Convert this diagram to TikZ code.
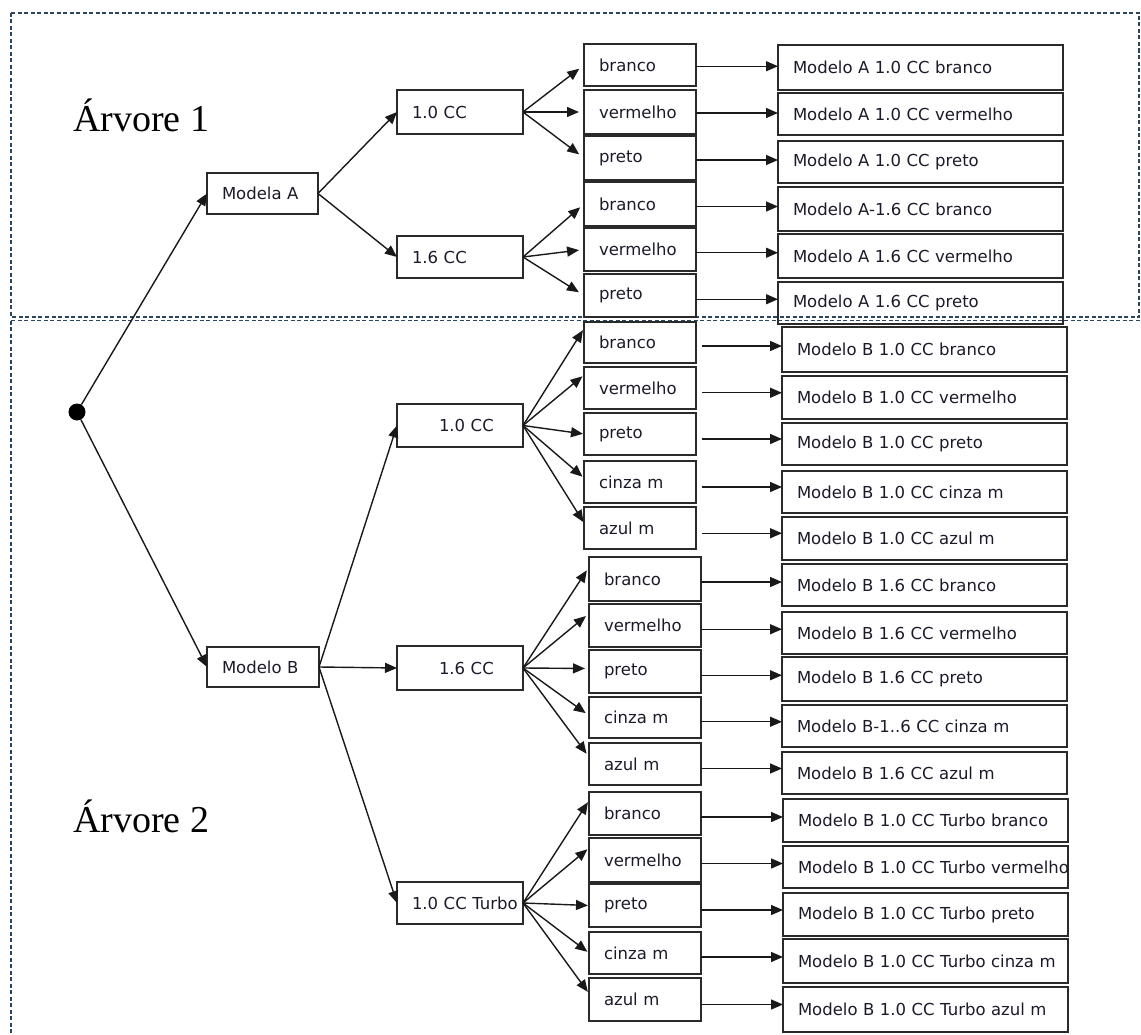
\documentclass[tikz,border=0pt]{standalone}
\usepackage{fontspec}
\setmainfont{Liberation Serif}
\newfontfamily\cellfont{DejaVu Sans}
\usetikzlibrary{arrows.meta,calc}

\definecolor{frameblue}{HTML}{2A4560}
\definecolor{ink}{HTML}{1A1A2A}
\definecolor{edge}{HTML}{2A2A2A}

\tikzset{
  cell/.style={draw=edge, line width=1.6pt, inner xsep=15pt, inner ysep=0pt,
    outer sep=0pt, align=left, text=ink,
    font=\cellfont\fontsize{16.5}{19}\selectfont},
  arr/.style={draw=black!90, line width=1.4pt,
    -{Triangle[length=12pt,width=10pt]}},
  frame/.style={draw=frameblue, line width=1.2pt, dash pattern=on 4pt off 2.5pt},
  title/.style={anchor=base west, inner sep=0pt, text=black,
    font=\fontsize{38}{40}\selectfont},
  rootdot/.style={circle, fill=black, minimum size=17pt, inner sep=0pt}
}

% box given by its corners: name, x1, y1, x2, y2, text
\newcommand\cellbox[7][]{%
  \node[cell,#1,text width={(#5-#3-30)*1pt},minimum height={(#6-#4)*1pt},
    anchor=north west] (#2) at (#3,#4) {\mbox{#7}};}
% horizontal link between a colour box and its result box
\newcommand\hlink[3][]{%
  \draw[arr,#1] let \p1=(#2.east), \p2=(#3.west) in
    (\x1,{(\y1+\y2)/2}) -- (\x2,{(\y1+\y2)/2});}
% fan-out link from a capacity box to a colour box
\newcommand\flink[4][0]{%
  \draw[arr,shorten >=#4pt] (#2.east) -- ([yshift=#1pt]#3.west);}

\begin{document}
\begin{tikzpicture}[x=1pt,y=-1pt]
\useasboundingbox (0,0) rectangle (1141,1035);

% dashed frames of the two trees
\draw[frame] (11,13) rectangle (1139,317);
\draw[frame] (11,320.5) -- (1141,320.5);
\draw[frame] (11,320.5) -- (11,1035);

% titles
\node[title] (t1) at (73,132) {Árvore 1};
\node[title] (t2) at (73,832) {Árvore 2};

% root
\node[rootdot] (root) at (77,412) {};

% models
\cellbox{mA}{207}{173}{318}{214}{Modela A}
\cellbox{mB}{207}{647}{319}{687}{Modelo B}

% engines
\cellbox{pA10}{397}{90}{523}{134}{1.0 CC}
\cellbox{pA16}{397}{236}{523}{278}{1.6 CC}
\cellbox{pB10}{397}{404}{523}{447}{\hspace*{27pt}1.0 CC}
\cellbox{pB16}{397}{646}{523}{690}{\hspace*{27pt}1.6 CC}
\cellbox{pBT}{397}{882}{523}{924}{1.0 CC Turbo}

% colours, model A
\cellbox{cA1}{584}{44}{696}{86}{branco}
\cellbox{cA2}{584}{90}{696}{134}{vermelho}
\cellbox{cA3}{584}{136}{696}{180}{preto}
\cellbox{cA4}{584}{182}{696}{226}{branco}
\cellbox{cA5}{584}{228}{696}{271}{vermelho}
\cellbox{cA6}{584}{274}{696}{317}{preto}

% colours, model B 1.0
\cellbox{cB1}{584}{322}{696}{363}{branco}
\cellbox{cB2}{584}{367}{696}{409}{vermelho}
\cellbox{cB3}{584}{413}{696}{455}{preto}
\cellbox{cB4}{584}{461}{696}{503}{cinza m}
\cellbox{cB5}{584}{507}{696}{549}{azul m}

% colours, model B 1.6
\cellbox{cC1}{589}{557}{701}{601}{branco}
\cellbox{cC2}{589}{604}{701}{647}{vermelho}
\cellbox{cC3}{589}{650}{701}{693}{preto}
\cellbox{cC4}{589}{697}{701}{738}{cinza m}
\cellbox{cC5}{589}{743}{701}{785}{azul m}

% colours, model B 1.0 turbo
\cellbox{cD1}{589}{792}{701}{835}{branco}
\cellbox{cD2}{589}{838}{701}{882}{vermelho}
\cellbox{cD3}{589}{884}{701}{927}{preto}
\cellbox{cD4}{589}{932}{701}{974}{cinza m}
\cellbox{cD5}{589}{978}{701}{1021}{azul m}

% results, model A
\cellbox{lA1}{778}{45}{1063}{90}{Modelo A 1.0 CC branco}
\cellbox{lA2}{778}{93}{1063}{135}{Modelo A 1.0 CC vermelho}
\cellbox{lA3}{778}{141}{1063}{183}{Modelo A 1.0 CC preto}
\cellbox{lA4}{778}{187}{1063}{231}{Modelo A-1.6 CC branco}
\cellbox{lA5}{778}{234}{1063}{278}{Modelo A 1.6 CC vermelho}
\cellbox{lA6}{778}{282}{1063}{324}{Modelo A 1.6 CC preto}

% results, model B 1.0
\cellbox{lB1}{782}{327}{1067}{372}{Modelo B 1.0 CC branco}
\cellbox{lB2}{782}{376}{1067}{419}{Modelo B 1.0 CC vermelho}
\cellbox{lB3}{782}{423}{1067}{465}{Modelo B 1.0 CC preto}
\cellbox{lB4}{782}{471}{1067}{513}{Modelo B 1.0 CC cinza m}
\cellbox{lB5}{782}{517}{1067}{560}{Modelo B 1.0 CC azul m}

% results, model B 1.6
\cellbox{lC1}{782}{564}{1067}{606}{Modelo B 1.6 CC branco}
\cellbox{lC2}{782}{612}{1067}{654}{Modelo B 1.6 CC vermelho}
\cellbox{lC3}{782}{657}{1067}{701}{Modelo B 1.6 CC preto}
\cellbox{lC4}{782}{705}{1067}{747}{Modelo B-1..6 CC cinza m}
\cellbox{lC5}{782}{752}{1067}{794}{Modelo B 1.6 CC azul m}

% results, model B 1.0 turbo
\cellbox{lD1}{783}{799}{1068}{842}{Modelo B 1.0 CC Turbo branco}
\cellbox{lD2}{783}{846}{1068}{888}{Modelo B 1.0 CC Turbo vermelho}
\cellbox{lD3}{783}{893}{1068}{936}{Modelo B 1.0 CC Turbo preto}
\cellbox{lD4}{783}{939}{1068}{983}{Modelo B 1.0 CC Turbo cinza m}
\cellbox{lD5}{783}{987}{1068}{1032}{Modelo B 1.0 CC Turbo azul m}

% root to models
\draw[arr] (root) -- (mA.west);
\draw[arr] (root) -- (mB.west);

% models to engines
\draw[arr] (mA.east) -- (pA10.west);
\draw[arr] (mA.east) -- (pA16.west);
\draw[arr] (mB.east) -- (pB10.west);
\draw[arr] (mB.east) -- (pB16.west);
\draw[arr] (mB.east) -- (pBT.west);

% engines to colours
\flink{pA10}{cA1}{6} \flink{pA10}{cA2}{5} \flink{pA10}{cA3}{6}
\flink{pA16}{cA4}{5} \flink{pA16}{cA5}{5} \flink{pA16}{cA6}{6}
\flink[14]{pB10}{cB1}{2} \flink[13]{pB10}{cB2}{2} \flink{pB10}{cB3}{1}
\flink[4]{pB10}{cB4}{2} \flink[5]{pB10}{cB5}{1}
\flink[12]{pB16}{cC1}{4} \flink[12]{pB16}{cC2}{4} \flink[3]{pB16}{cC3}{4}
\flink[2]{pB16}{cC4}{4} \flink[7]{pB16}{cC5}{4}
\flink[13]{pBT}{cD1}{2} \flink[12]{pBT}{cD2}{2} \flink{pBT}{cD3}{1}
\flink{pBT}{cD4}{2} \flink[6]{pBT}{cD5}{2}

% colours to results
\hlink{cA1}{lA1} \hlink{cA2}{lA2} \hlink{cA3}{lA3}
\hlink{cA4}{lA4} \hlink{cA5}{lA5} \hlink{cA6}{lA6}
\hlink[shorten <=6pt]{cB1}{lB1} \hlink[shorten <=6pt]{cB2}{lB2}
\hlink[shorten <=6pt]{cB3}{lB3} \hlink[shorten <=6pt]{cB4}{lB4}
\hlink[shorten <=6pt]{cB5}{lB5}
\hlink{cC1}{lC1} \hlink{cC2}{lC2} \hlink{cC3}{lC3} \hlink{cC4}{lC4} \hlink{cC5}{lC5}
\hlink{cD1}{lD1} \hlink{cD2}{lD2} \hlink{cD3}{lD3} \hlink{cD4}{lD4} \hlink{cD5}{lD5}
\end{tikzpicture}
\end{document}
